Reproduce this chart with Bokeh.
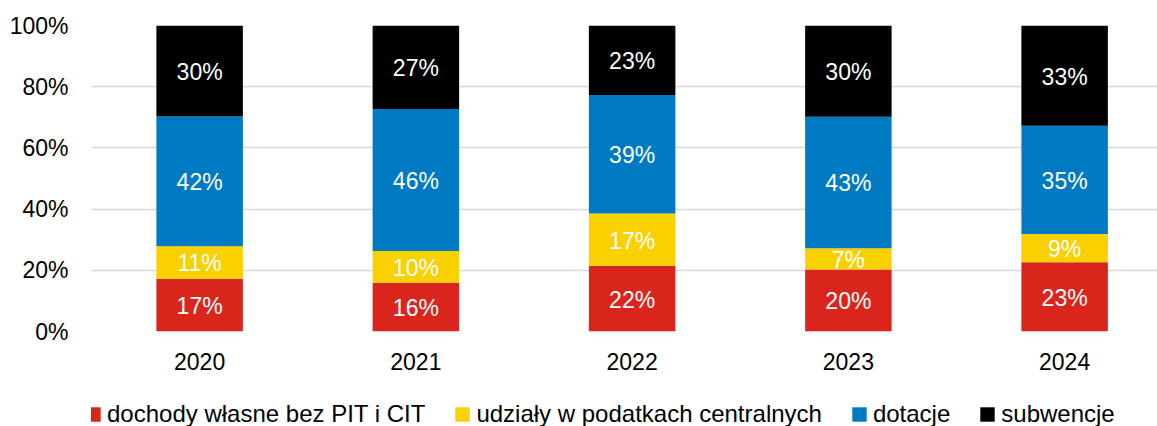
from bokeh.plotting import figure
from bokeh.models import ColumnDataSource, Range1d, FixedTicker, Legend, LegendItem, LabelSet
from bokeh.layouts import column
from bokeh.core.properties import value
from bokeh.embed import file_html
from bokeh.resources import INLINE

years = ["2020", "2021", "2022", "2023", "2024"]
series_names = ["dochody własne bez PIT i CIT", "udziały w podatkach centralnych", "dotacje", "subwencje"]
dochody = [17.2, 15.9, 21.5, 20.3, 22.6]
udzialy = [10.7, 10.4, 17.1, 6.9, 9.3]
dotacje = [42.4, 46.4, 38.7, 43.0, 35.3]
subwencje = [29.7, 27.3, 22.7, 29.8, 32.8]
colors = ["#DA251D", "#F9D000", "#007AC2", "#000000"]
y_ticks = [0, 20, 40, 60, 80, 100]

FONT = "Liberation Sans"
FS = "23px"

keys = ["dochody", "udzialy", "dotacje", "subwencje"]
xs = list(range(len(years)))
data = dict(x=xs, dochody=dochody, udzialy=udzialy, dotacje=dotacje, subwencje=subwencje)
src = ColumnDataSource(data)

p = figure(width=1157, height=380, output_backend="svg", toolbar_location=None,
           min_border_left=91, min_border_right=0, min_border_top=25, min_border_bottom=49,
           x_range=Range1d(-0.5, -0.5 + 1066 / 216.25), y_range=Range1d(0, 100))
p.outline_line_color = None
p.background_fill_color = "white"
p.border_fill_color = "white"

renderers = p.vbar_stack(keys, x="x", width=0.4, color=colors, source=src, line_color=None)

# labels
lx, ly, lt = [], [], []
for i in range(len(years)):
    base = 0
    for arr in (dochody, udzialy, dotacje, subwencje):
        v = arr[i]
        lx.append(xs[i])
        ly.append(base + v / 2)
        lt.append(f"{round(v)}%")
        base += v
lsrc = ColumnDataSource(dict(x=lx, y=ly, t=lt))
labels = LabelSet(x="x", y="y", text="t", source=lsrc, text_color="white",
                  text_font=value(FONT), text_font_size=value(FS), text_align="center",
                  text_baseline="middle", y_offset=-1)
p.add_layout(labels)

# axes
p.xaxis.ticker = FixedTicker(ticks=xs)
p.xaxis.major_label_overrides = {i: y for i, y in enumerate(years)}
p.yaxis.ticker = FixedTicker(ticks=y_ticks)
p.yaxis.major_label_overrides = {t: f"{t}%" for t in y_ticks}
for ax in (p.xaxis[0], p.yaxis[0]):
    ax.axis_line_color = None
    ax.major_tick_line_color = None
    ax.minor_tick_line_color = None
    ax.major_tick_out = 0
    ax.major_tick_in = 0
    ax.major_label_text_font = FONT
    ax.major_label_text_font_size = FS
    ax.major_label_text_color = "black"
p.yaxis.major_label_standoff = 23
p.xaxis.major_label_standoff = 21

p.xgrid.grid_line_color = None
p.ygrid.grid_line_color = "#D9D9D9"
p.ygrid.grid_line_width = 1.5
p.ygrid.ticker = FixedTicker(ticks=y_ticks)

# legend strip (its bars lie outside its visible y range; only the legend shows)
p2 = figure(width=1157, height=46, output_backend="svg", toolbar_location=None,
            min_border=0, x_axis_type=None, y_axis_type=None,
            x_range=Range1d(-0.5, 4.5), y_range=Range1d(1000, 1001))
p2.outline_line_color = None
p2.xgrid.visible = False
p2.ygrid.visible = False
legend_rs = p2.vbar_stack(keys, x="x", width=0.4, color=colors, source=src, line_color=None)
items = [LegendItem(label=n, renderers=[r]) for n, r in zip(series_names, legend_rs)]
legend = Legend(items=items, orientation="horizontal", location=(-7, -2),
                label_text_font=FONT, label_text_font_size="24px", label_text_color="black",
                glyph_width=18, glyph_height=18, label_standoff=5, spacing=28,
                padding=0, margin=0, border_line_color=None, background_fill_alpha=0)
p2.add_layout(legend, "center")

open("out.html", "w").write(file_html(column(p, p2, spacing=0), INLINE))
